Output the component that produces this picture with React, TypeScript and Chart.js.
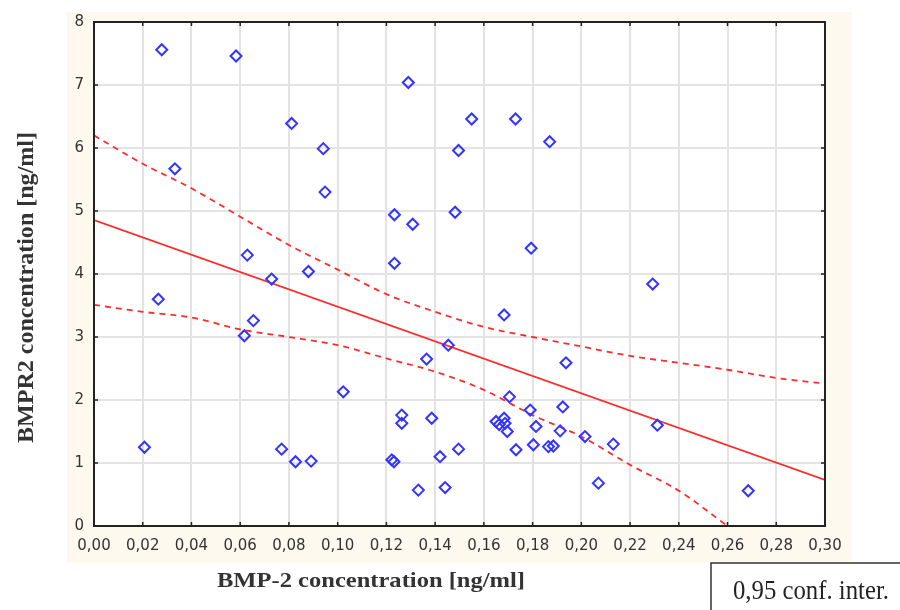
import React, { useEffect, useRef } from "react";
import { Chart, registerables } from "chart.js";

Chart.register(...registerables);

// BMP-2 concentration [ng/ml] (x) vs BMPR2 concentration [ng/ml] (y)
const bmp2 = [
  0.0207, 0.0264, 0.0278, 0.0332, 0.0583, 0.0617, 0.0629, 0.0654, 0.0729, 0.077,
  0.0811, 0.0827, 0.088, 0.0891, 0.0941, 0.0948, 0.1023, 0.1222, 0.1231, 0.1233,
  0.1233, 0.1263, 0.1263, 0.129, 0.1308, 0.1331, 0.1365, 0.1386, 0.142, 0.1441,
  0.1454, 0.1482, 0.1496, 0.1496, 0.155, 0.165, 0.1663, 0.1683, 0.1687, 0.1696,
  0.1683, 0.1705, 0.173, 0.1732, 0.179, 0.1794, 0.1803, 0.1814, 0.1865, 0.187,
  0.1885, 0.1913, 0.1924, 0.1937, 0.2015, 0.207, 0.2131, 0.2293, 0.2312, 0.2685,
];
const bmpr2 = [
  1.25, 3.6, 7.56, 5.67, 7.46, 3.02, 4.3, 3.26, 3.92, 1.22,
  6.39, 1.02, 4.04, 1.03, 5.99, 5.3, 2.13, 1.05, 1.02, 4.94,
  4.17, 1.76, 1.63, 7.04, 4.79, 0.57, 2.65, 1.71, 1.1, 0.61,
  2.87, 4.98, 5.96, 1.22, 6.46, 1.66, 1.61, 1.71, 1.63, 1.5,
  3.35, 2.05, 6.46, 1.21, 1.84, 4.41, 1.29, 1.58, 1.26, 6.1,
  1.27, 1.51, 1.89, 2.59, 1.42, 0.68, 1.3, 3.84, 1.6, 0.56,
];

// Regression line
const regX = [0, 0.3];
const regY = [4.855, 0.73];

// 0.95 confidence band
const ciUpperX = [0, 0.02, 0.04, 0.06, 0.08, 0.1, 0.12, 0.14, 0.16, 0.18, 0.2, 0.22, 0.24, 0.26, 0.28, 0.3];
const ciUpperY = [6.2, 5.75, 5.36, 4.91, 4.46, 4.07, 3.68, 3.4, 3.16, 3.0, 2.85, 2.7, 2.59, 2.48, 2.35, 2.26];
const ciLowerX = [0, 0.02, 0.04, 0.06, 0.08, 0.1, 0.12, 0.14, 0.16, 0.18, 0.2, 0.22, 0.24, 0.26];
const ciLowerY = [3.51, 3.4, 3.31, 3.12, 3.0, 2.87, 2.66, 2.45, 2.16, 1.76, 1.42, 0.97, 0.56, 0.0];

const xTitle = "BMP-2 concentration [ng/ml]";
const yTitle = "BMPR2 concentration [ng/ml]";
const legendText = "0,95 conf. inter.";

const zip = (xs: number[], ys: number[]) => xs.map((x, i) => ({ x, y: ys[i] }));

function stretchedText(
  ctx: CanvasRenderingContext2D,
  text: string,
  x: number,
  y: number,
  font: string,
  targetW: number,
  rotate: boolean
) {
  ctx.save();
  ctx.font = font;
  const w = ctx.measureText(text).width;
  ctx.translate(x, y);
  if (rotate) ctx.rotate(-Math.PI / 2);
  ctx.scale(targetW / w, 1);
  ctx.textAlign = "center";
  ctx.textBaseline = "alphabetic";
  ctx.fillText(text, 0, 0);
  ctx.restore();
}

const decorPlugin = {
  id: "decor",
  beforeDraw(chart: any) {
    const { ctx, chartArea: a } = chart;
    ctx.save();
    ctx.fillStyle = "#ffffff";
    ctx.fillRect(0, 0, chart.width, chart.height);
    ctx.fillStyle = "#fef9ee";
    ctx.fillRect(67, 12, 852 - 67, 563 - 12);
    ctx.fillStyle = "#ffffff";
    ctx.fillRect(a.left, a.top, a.right - a.left, a.bottom - a.top);
    ctx.restore();
  },
  afterDraw(chart: any) {
    const { ctx, chartArea: a, scales } = chart;
    ctx.save();
    // frame
    ctx.strokeStyle = "#222";
    ctx.lineWidth = 2;
    ctx.strokeRect(a.left, a.top, a.right - a.left, a.bottom - a.top);
    // inner ticks
    ctx.lineWidth = 1.5;
    ctx.beginPath();
    scales.x.ticks.forEach((t: any) => {
      const px = scales.x.getPixelForValue(t.value);
      ctx.moveTo(px, a.top);
      ctx.lineTo(px, a.top + 4);
      ctx.moveTo(px, a.bottom);
      ctx.lineTo(px, a.bottom - 4);
    });
    scales.y.ticks.forEach((t: any) => {
      const py = scales.y.getPixelForValue(t.value);
      ctx.moveTo(a.left, py);
      ctx.lineTo(a.left + 4, py);
      ctx.moveTo(a.right, py);
      ctx.lineTo(a.right - 4, py);
    });
    ctx.stroke();

    // titles
    ctx.fillStyle = "#333";
    stretchedText(ctx, xTitle, 371, 587, "bold 21px 'Liberation Serif', 'Times New Roman', serif", 308, false);
    stretchedText(ctx, yTitle, 33, 287.5, "bold 24px 'Liberation Serif', 'Times New Roman', serif", 311, true);

    // legend box
    ctx.fillStyle = "#ffffff";
    ctx.fillRect(711, 563, 200, 60);
    ctx.strokeStyle = "#333";
    ctx.lineWidth = 1.5;
    ctx.strokeRect(711, 563, 200, 60);
    ctx.fillStyle = "#222";
    stretchedText(ctx, legendText, 811, 599, "28px 'Liberation Serif', 'Times New Roman', serif", 156, false);
    ctx.restore();
  },
};

export default function App() {
  const ref = useRef<HTMLCanvasElement | null>(null);

  useEffect(() => {
    document.body.style.margin = "0";
    const canvas = ref.current;
    if (!canvas) return;
    const tickFont = { family: "'DejaVu Sans', Verdana, sans-serif", size: 15 };
    const chart = new Chart(canvas, {
      type: "scatter",
      data: {
        datasets: [
          {
            label: "data",
            data: zip(bmp2, bmpr2),
            pointStyle: "rectRot",
            pointRadius: 5.5,
            pointBorderWidth: 2,
            borderColor: "#3434ff",
            backgroundColor: "rgba(255,255,255,0)",
            order: 0,
          } as any,
          {
            label: "fit",
            data: zip(regX, regY),
            showLine: true,
            pointRadius: 0,
            borderColor: "#ff2b2b",
            borderWidth: 1.8,
            order: 1,
          } as any,
          {
            label: "upper",
            data: zip(ciUpperX, ciUpperY),
            showLine: true,
            pointRadius: 0,
            borderColor: "#ff2b2b",
            borderWidth: 1.8,
            borderDash: [6, 5],
            cubicInterpolationMode: "monotone",
            order: 1,
          } as any,
          {
            label: "lower",
            data: zip(ciLowerX, ciLowerY),
            showLine: true,
            pointRadius: 0,
            borderColor: "#ff2b2b",
            borderWidth: 1.8,
            borderDash: [6, 5],
            cubicInterpolationMode: "monotone",
            order: 1,
          } as any,
        ],
      },
      options: {
        responsive: false,
        animation: false,
        devicePixelRatio: 1,
        layout: { padding: { left: 0, top: 22, right: 75, bottom: 0 } },
        plugins: {
          legend: { display: false },
          tooltip: { enabled: false },
        },
        scales: {
          x: {
            type: "linear",
            min: 0,
            max: 0.3,
            border: { display: false },
            grid: { color: "#e3e3e3", lineWidth: 2, drawTicks: false },
            ticks: {
              stepSize: 0.02,
              padding: 11,
              color: "#333",
              font: tickFont,
              maxRotation: 0,
              autoSkip: false,
              callback: (v: any) => Number(v).toFixed(2).replace(".", ","),
            },
            afterFit: (s: any) => {
              s.height = 84;
              s.paddingLeft = 0;
              s.paddingRight = 0;
            },
          },
          y: {
            type: "linear",
            min: 0,
            max: 8,
            border: { display: false },
            grid: { color: "#e3e3e3", lineWidth: 2, drawTicks: false },
            ticks: {
              stepSize: 1,
              padding: 10,
              color: "#333",
              font: tickFont,
              callback: (v: any) => String(v),
            },
            afterFit: (s: any) => {
              s.width = 94;
              s.paddingTop = 0;
              s.paddingBottom = 0;
            },
          },
        },
      } as any,
      plugins: [decorPlugin],
    });
    return () => chart.destroy();
  }, []);

  return (
    <div style={{ position: "absolute", left: 0, top: 0, width: 900, height: 610 }}>
      <canvas ref={ref} width={900} height={610} style={{ display: "block" }} />
    </div>
  );
}
